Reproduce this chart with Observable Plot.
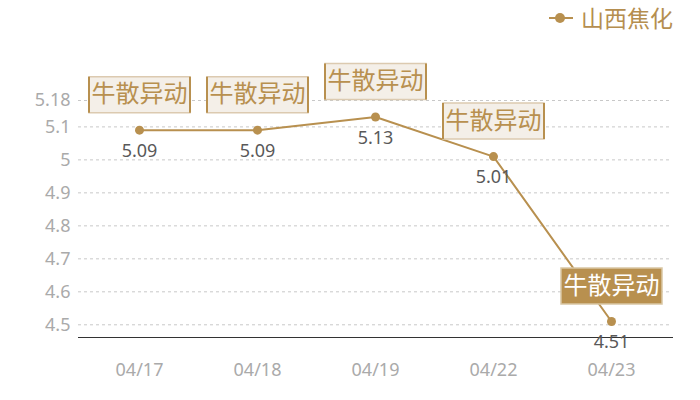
<!DOCTYPE html>
<html><head><meta charset="utf-8">
<script src="https://cdn.jsdelivr.net/npm/d3@7"></script>
<script src="https://cdn.jsdelivr.net/npm/@observablehq/plot@0.6"></script>
<style>
body{margin:0;background:#fff;font-family:"Noto Sans","Noto Sans CJK SC",sans-serif;}
#wrap{position:relative;width:700px;height:400px;}
#legend{position:absolute;left:549px;top:6px;display:flex;align-items:center;color:#b58e4f;font-size:23px;line-height:1;font-family:"Noto Sans CJK SC",sans-serif;}
</style></head><body>
<div id="wrap"><div id="legend"></div></div>
<script>
const seriesName = "山西焦化";
const dates = ["04/17","04/18","04/19","04/22","04/23"];
const values = [5.09, 5.09, 5.13, 5.01, 4.51];
const tags = ["牛散异动","牛散异动","牛散异动","牛散异动","牛散异动"];
const highlighted = [false, false, false, false, true];
const yTicks = [4.5, 4.6, 4.7, 4.8, 4.9, 5, 5.1, 5.18];
const yDomain = [4.4615, 5.18];

const data = dates.map((d, i) => ({date: d, value: values[i], tag: tags[i], hi: highlighted[i]}));
const tan = "#b8904f";
const BW = 101, BH = 36;
const boxSymbol = {draw(ctx) { ctx.rect(-BW/2, -BH/2, BW, BH); }};
const sideSymbol = {draw(ctx) { ctx.moveTo(-BW/2, -BH/2); ctx.lineTo(-BW/2, BH/2); ctx.moveTo(BW/2, -BH/2); ctx.lineTo(BW/2, BH/2); }};
const normal = data.filter(d => !d.hi), hot = data.filter(d => d.hi);
const BOXDY = -35.5;

const chart = Plot.plot({
  width: 700, height: 400,
  marginLeft: 78, marginRight: 28, marginTop: 100, marginBottom: 63,
  style: {fontFamily: '"Noto Sans","Noto Sans CJK SC",sans-serif', background: "transparent", overflow: "visible"},
  x: {type: "point", domain: dates, padding: 0.5, label: null},
  y: {domain: yDomain, label: null},
  marks: [
    Plot.gridY(yTicks, {stroke: "#c8c8c8", strokeOpacity: 1, strokeDasharray: "3,3"}),
    Plot.axisY(yTicks, {tickSize: 0, tickPadding: 8, fontSize: 18, fill: "#aaaaaa", tickFormat: d => String(d), label: null}),
    Plot.axisX({tickSize: 0, tickPadding: 26, fontSize: 18, fill: "#aaaaaa", label: null}),
    Plot.frame({anchor: "bottom", stroke: "#333"}),
    Plot.line(data, {x: "date", y: "value", stroke: tan, strokeWidth: 2}),
    Plot.dot(data, {x: "date", y: "value", r: 4.5, fill: tan, stroke: "none"}),
    Plot.dot(normal, {x: "date", y: "value", dy: BOXDY, symbol: boxSymbol, r: 5, fill: "#f4efe8", stroke: "#dccab0", strokeWidth: 1.5}),
    Plot.dot(normal, {x: "date", y: "value", dy: BOXDY, symbol: sideSymbol, r: 5, fill: "none", stroke: tan, strokeWidth: 2}),
    Plot.dot(hot, {x: "date", y: "value", dy: BOXDY, symbol: boxSymbol, r: 5, fill: tan, stroke: "#d9c6a4", strokeWidth: 1.5}),
    Plot.text(normal, {x: "date", y: "value", dy: BOXDY, text: "tag", fill: tan, fontSize: 24, fontFamily: '"Noto Sans CJK SC",sans-serif'}),
    Plot.text(hot, {x: "date", y: "value", dy: BOXDY, text: "tag", fill: "#ffffff", fontSize: 24, fontFamily: '"Noto Sans CJK SC",sans-serif'}),
    Plot.text(data, {x: "date", y: "value", dy: 21, text: d => String(d.value), fill: "#595959", fontSize: 18})
  ]
});
document.getElementById("wrap").appendChild(chart);

const lg = document.getElementById("legend");
lg.innerHTML = `<svg width="26" height="12"><line x1="0" x2="24" y1="6" y2="6" stroke="${tan}" stroke-width="2"/><circle cx="11" cy="6" r="5" fill="${tan}"/></svg><span style="margin-left:6px"></span>`;
lg.querySelector("span").textContent = seriesName;
lg.style.zIndex = 2;
</script>
</body></html>
